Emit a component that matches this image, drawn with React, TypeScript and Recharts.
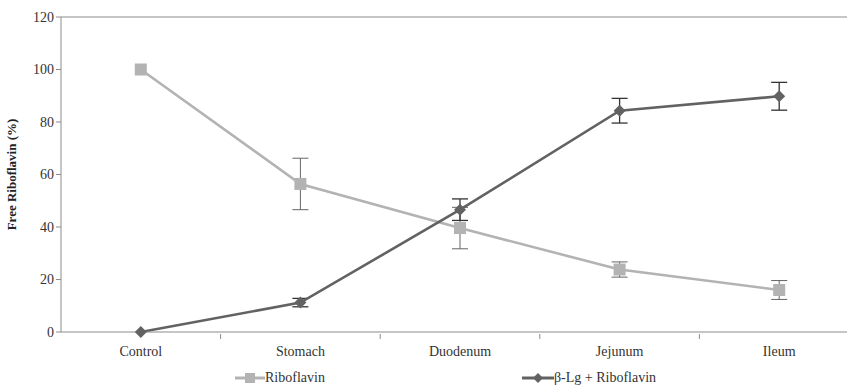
import { LineChart, Line, XAxis, YAxis, ErrorBar, ReferenceLine, Legend } from 'recharts';

const categories = ['Control', 'Stomach', 'Duodenum', 'Jejunum', 'Ileum'];
const riboflavin = [100, 56.4, 39.6, 23.8, 16];
const riboflavinErr = [0, 9.8, 7.9, 2.9, 3.6];
const betaLg = [0, 11.2, 46.6, 84.3, 89.8];
const betaLgErr = [0, 1.6, 4.1, 4.7, 5.3];
const yTicks = [0, 20, 40, 60, 80, 100, 120];

const data = categories.map((name, i) => ({
  x: i,
  name,
  ribo: riboflavin[i],
  riboErr: riboflavinErr[i],
  beta: betaLg[i],
  betaErr: betaLgErr[i],
}));

const xTicks = [0, 0.5, 1, 1.5, 2, 2.5, 3, 3.5, 4];
const font = '"Times New Roman", "Liberation Serif", Tinos, "DejaVu Serif", serif';
const axisColor = '#8c8c8c';
const riboColor = '#b3b3b3';
const betaColor = '#626262';

function XTick(props: any) {
  const { x, y, payload } = props;
  const v = payload.value;
  if (Number.isInteger(v)) {
    return (
      <text x={x} y={y + 17} textAnchor="middle" fontFamily={font} fontSize={14} fill="#333">
        {categories[v]}
      </text>
    );
  }
  return <line x1={x} x2={x} y1={y - 5} y2={y} stroke={axisColor} strokeWidth={1} />;
}

function SquareDot(props: any) {
  const { cx, cy, index } = props;
  return <rect key={index} x={cx - 6} y={cy - 6} width={12} height={12} fill={riboColor} />;
}

function DiamondDot(props: any) {
  const { cx, cy, index } = props;
  return <polygon key={index} points={`${cx},${cy - 6} ${cx + 6},${cy} ${cx},${cy + 6} ${cx - 6},${cy}`} fill={betaColor} />;
}

function LegendContent() {
  return (
    <div style={{ position: 'relative', height: 20, fontFamily: font, fontSize: 14, color: '#333' }}>
      <div style={{ position: 'absolute', left: 235, top: 0, display: 'flex', alignItems: 'center' }}>
        <svg width={30} height={14}>
          <line x1={0} x2={30} y1={7} y2={7} stroke={riboColor} strokeWidth={3} />
          <rect x={10} y={2} width={10} height={10} fill={riboColor} />
        </svg>
        <span>Riboflavin</span>
      </div>
      <div style={{ position: 'absolute', left: 522, top: 0, display: 'flex', alignItems: 'center' }}>
        <svg width={32} height={14}>
          <line x1={0} x2={32} y1={7} y2={7} stroke={betaColor} strokeWidth={3} />
          <polygon points="16,2 21,7 16,12 11,7" fill={betaColor} />
        </svg>
        <span>β-Lg + Riboflavin</span>
      </div>
    </div>
  );
}

export default function App() {
  return (
    <div style={{ position: 'fixed', left: 0, top: 0, width: 847, height: 386, overflow: 'hidden', background: '#fff' }}>
      <LineChart width={870} height={386} data={data} margin={{ top: 17, right: 11, bottom: 0, left: 0 }}>
        <XAxis
          dataKey="x"
          type="number"
          domain={[-0.5, 4.5]}
          ticks={xTicks}
          interval={0}
          tick={<XTick />}
          tickLine={false}
          tickSize={5}
          stroke={axisColor}
          height={34}
        />
        <YAxis
          domain={[0, 120]}
          ticks={yTicks}
          width={61}
          stroke={axisColor}
          tickSize={5}
          tick={{ fill: '#333', fontFamily: font, fontSize: 14 }}
          label={{
            value: 'Free Riboflavin (%)',
            angle: -90,
            position: 'insideLeft',
            offset: 11,
            style: { textAnchor: 'middle', fontFamily: font, fontSize: 13, fontWeight: 'bold', fill: '#222' },
          }}
        />
        <ReferenceLine y={120} stroke={axisColor} strokeWidth={1} />
        <Line dataKey="ribo" stroke={riboColor} strokeWidth={2.6} dot={<SquareDot />} isAnimationActive={false}>
          <ErrorBar dataKey="riboErr" width={8} stroke="#666" strokeWidth={1} />
        </Line>
        <Line dataKey="beta" stroke={betaColor} strokeWidth={2.6} dot={<DiamondDot />} isAnimationActive={false}>
          <ErrorBar dataKey="betaErr" width={8} stroke="#333" strokeWidth={1.3} />
        </Line>
        <Legend verticalAlign="bottom" content={<LegendContent />} wrapperStyle={{ left: 0, bottom: -4, width: 847, height: 20 }} />
      </LineChart>
    </div>
  );
}
